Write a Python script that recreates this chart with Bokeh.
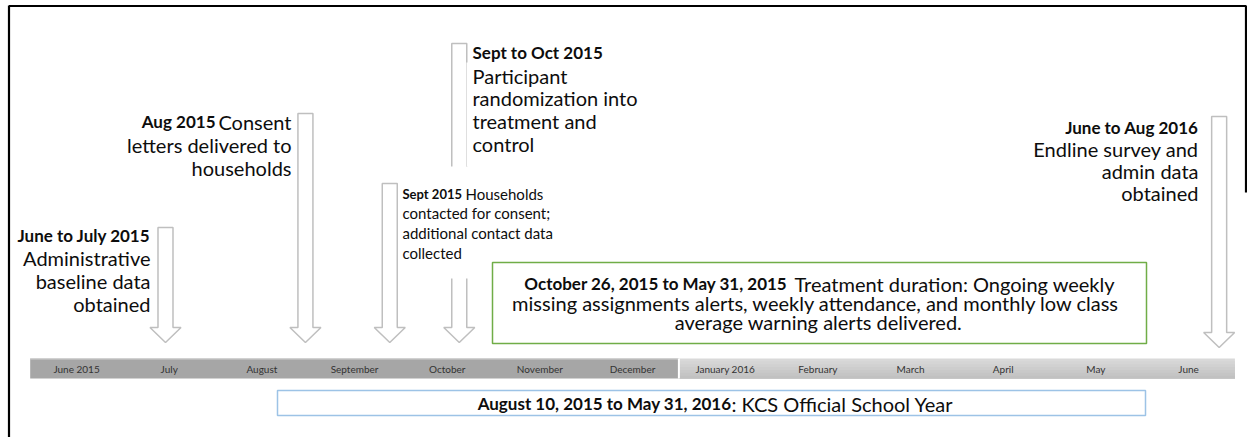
from bokeh.plotting import figure
from bokeh.models import Range1d
from bokeh.embed import file_html
from bokeh.resources import INLINE
from bokeh.core.properties import value

# ---------------- data ----------------
months = ["June 2015", "July", "August", "September", "October", "November",
          "December", "January 2016", "February", "March", "April", "May", "June"]
month_year = [2015, 2015, 2015, 2015, 2015, 2015, 2015,
              2016, 2016, 2016, 2016, 2016, 2016]

# timeline position of each milestone arrow (in months after start of June 2015)
event_pos = [0.96, 2.47, 3.38, 4.13, 12.33]
event_bold = ["June to July 2015", "Aug 2015", "Sept 2015", "Sept to Oct 2015", "June to Aug 2016"]

treat_bold = "October 26, 2015 to May 31, 2015"
treat_lines = ["Treatment duration: Ongoing weekly",
               "missing assignments alerts, weekly attendance, and monthly low  class",
               "average warning alerts delivered."]
year_bold = "August 10, 2015 to May 31, 2016"
year_rest = ": KCS Official School Year"

# ---------------- layout (pixel space of the picture) ----------------
FONT = value("Lato")
W, H = 1247, 437
BAR_LEFT, MONTH_W = 29.7, 92.67
BAR_TOP, BAR_BOT = 358, 378
NORMAL, BOLD = "20px", "17px"

def mx(pos):
    return BAR_LEFT + (pos + 0.5) * MONTH_W

p = figure(width=W, height=H, output_backend="svg", toolbar_location=None,
           x_range=Range1d(0, W), y_range=Range1d(H, 0),
           min_border=0, outline_line_color=None, background_fill_color="white",
           border_fill_color="white")
p.axis.visible = False
p.grid.visible = False

# frame
p.line([8.5, 8.5], [5, H], line_color="black", line_width=2.2)
p.line([8.5, 1245.5], [5.5, 5.5], line_color="black", line_width=2.2)
p.line([1245.5, 1245.5], [5, 192], line_color="black", line_width=2.2)

# timeline bar
idx = list(range(len(months)))
x_left = [BAR_LEFT + i * MONTH_W for i in idx]
x_right = [BAR_LEFT + (i + 1) * MONTH_W for i in idx]
l15 = min(x_left[i] for i in idx if month_year[i] == 2015)
r15 = max(x_right[i] for i in idx if month_year[i] == 2015)
l16 = min(x_left[i] for i in idx if month_year[i] == 2016)
r16 = max(x_right[i] for i in idx if month_year[i] == 2016)
p.quad(left=[l15], right=[r15], top=[BAR_TOP], bottom=[BAR_BOT], fill_color="#a6a6a6", line_color=None)
p.quad(left=[l15], right=[r15], top=[BAR_TOP], bottom=[BAR_TOP + 1], fill_color="#cfcfcf", line_color=None)
shades = ["#d9d9d9", "#d5d5d5", "#d1d1d1", "#cdcdcd", "#c9c9c9", "#c5c5c5", "#c1c1c1"]
n = len(shades)
for k, col in enumerate(shades):
    p.quad(left=[l16], right=[r16], top=[BAR_TOP + k * (BAR_BOT - BAR_TOP) / n],
           bottom=[BAR_BOT], fill_color=col, line_color=None)
p.line([r15, r15], [BAR_TOP, BAR_BOT], line_color="white", line_width=2)
p.text(x=[mx(i) for i in idx], y=[368] * len(months), text=months, text_font=FONT,
       text_font_size="10px", text_align="center", text_baseline="middle", text_color="#333333")

# arrows
arrow_top = [227, 113, 183, 43, 116]
arrow_tip = [342, 342, 342, 342, 347]
xs, ys = [], []
for pos, t, tip in zip(event_pos, arrow_top, arrow_tip):
    cx = mx(pos)
    hs, hh, hl = 7.5, 15.5, 15
    xs.append([cx - hs, cx + hs, cx + hs, cx + hh, cx, cx - hh, cx - hs])
    ys.append([t, t, tip - hl, tip - hl, tip, tip - hl, tip - hl])
p.patches(xs, ys, fill_color="white", line_color="#bfbfbf", line_width=1.5)

# text boxes with white background (hide arrow parts)
p.quad(left=[399, 466], right=[600, 660], top=[166, 62], bottom=[278, 166],
       fill_color="white", line_color=None)

# green treatment box
p.quad(left=[492], right=[1146], top=[262], bottom=[343], fill_color="white",
       line_color="#70ad47", line_width=1.5)
# school-year box
p.quad(left=[277], right=[1145], top=[390], bottom=[415], fill_color="white",
       line_color="#9dc3e6", line_width=1.5)

def txt(x, y, s, size, align, bold=False):
    p.text(x=[x], y=[y], text=[s], text_font=FONT, text_font_size=size,
           text_font_style="bold" if bold else "normal", text_align=align,
           text_baseline="middle", text_color="#0d0d0d")

# block 1
txt(150, 235, event_bold[0], BOLD, "right", True)
for yy, s in zip([257, 280, 303], ["Administrative", "baseline data", "obtained"]):
    txt(150, yy, s, NORMAL, "right")
# block 2
txt(215, 121, event_bold[1], BOLD, "right", True)
txt(291, 121, "Consent", NORMAL, "right")
txt(291, 144, "letters delivered to", NORMAL, "right")
txt(291, 167, "households", NORMAL, "right")
# block 3
txt(402, 193, event_bold[2], "13px", "left", True)
txt(465, 193, "Households", "15px", "left")
txt(402, 212, "contacted for consent;", "15px", "left")
txt(402, 232, "additional contact data", "15px", "left")
txt(402, 252, "collected", "15px", "left")
# block 4
txt(472, 52, event_bold[3], BOLD, "left", True)
for yy, s in zip([75, 97, 120, 143], ["Participant", "randomization into", "treatment and", "control"]):
    txt(472, yy, s, NORMAL, "left")
# block 5
txt(1198, 127, event_bold[4], BOLD, "right", True)
for yy, s in zip([148, 170, 192], ["Endline survey and", "admin data", "obtained"]):
    txt(1198, yy, s, NORMAL, "right")

# treatment text
txt(787, 283, treat_bold, BOLD, "right", True)
txt(794, 283, treat_lines[0], NORMAL, "left")
txt(818, 302, treat_lines[1], NORMAL, "center")
txt(818, 321, treat_lines[2], NORMAL, "center")

# school-year text
txt(731, 403, year_bold, BOLD, "right", True)
txt(731, 403, year_rest, NORMAL, "left")

open("out.html", "w").write(file_html(p, INLINE))
